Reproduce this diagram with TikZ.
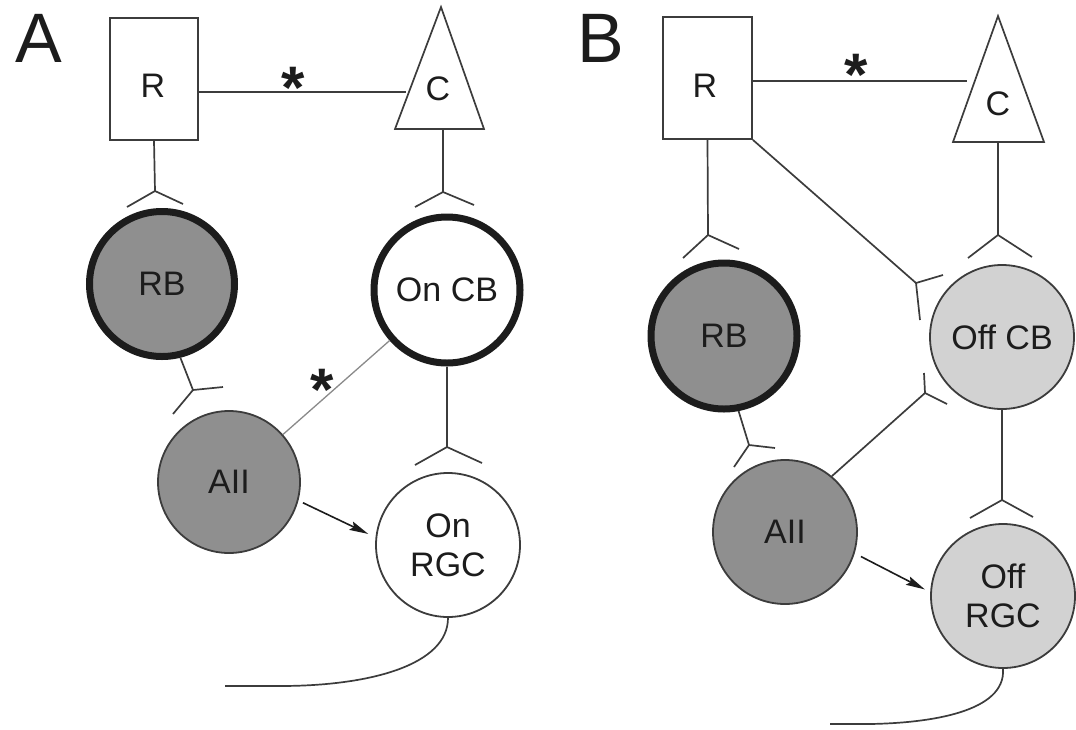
\documentclass[tikz,border=0pt]{standalone}
\usepackage{fontspec}
\setmainfont{Liberation Sans}
\usetikzlibrary{arrows.meta,calc}
\definecolor{ln}{HTML}{3C3C3C}
\definecolor{dk}{HTML}{1C1C1C}
\definecolor{fdark}{HTML}{8F8F8F}
\definecolor{flight}{HTML}{D2D2D2}
\definecolor{lgray}{HTML}{8A8A8A}
\begin{document}
\begin{tikzpicture}[x=1pt,y=-1pt,
  wire/.style={draw=ln, line width=1.7pt},
  lbl/.style={font=\fontsize{34}{40}\selectfont, text=dk, inner sep=0pt},
  cell/.style={circle, draw=ln, line width=1.8pt, inner sep=0pt, align=center,
               font=\fontsize{34}{39}\selectfont, text=dk},
  thickcell/.style={cell, draw=dk, line width=7pt},
  box/.style={draw=ln, line width=1.7pt, inner sep=0pt, fill=white},
  star/.style={font=\fontsize{60}{60}\selectfont\bfseries, text=dk, inner sep=0pt},
  panel/.style={font=\fontsize{70}{80}\selectfont, text=dk, inner sep=0pt},
  arr/.style={draw=dk, line width=1.6pt, -{Stealth[length=19pt,width=9pt,inset=3pt]}}]
\useasboundingbox (0,0) rectangle (1076,729);

% ---------------- Panel A ----------------
\node[panel] (lA) at (39,38) {A};
\node[box, minimum width=88pt, minimum height=122pt] (RA) at (154,79) {};
\node[lbl] (RAt) at (153,86) {R};
\coordinate (CAtop) at (441,7);
\coordinate (CAl) at (395,129);
\coordinate (CAr) at (484,129);
\draw[wire, line join=miter] (CAtop) -- (CAl) -- (CAr) -- cycle;
\node[lbl] (CAt) at (438,89) {C};
\coordinate (CAin) at (406,92);
\coordinate (CAb) at (443,129);
\draw[wire] (RA.east |- CAin) -- (CAin);
\node[star] (sA1) at (293,88) {*};

\node[thickcell, fill=fdark, minimum size=145pt] (RBa) at (162,284) {RB};
\node[thickcell, fill=white, minimum size=146pt] (OnCB) at (447,290) {On CB};
\node[cell, fill=fdark, minimum size=142pt] (AIIa) at (229,482) {AII};
\node[cell, fill=white, minimum size=144pt] (OnRGC) at (448,545) {On\\RGC};

% synapse forks A
\coordinate (fA1) at (155,191); \coordinate (fA1a) at (127,207); \coordinate (fA1b) at (183,204);
\draw[wire] (RA.south) -- (fA1);
\draw[wire] (fA1a) -- (fA1) -- (fA1b);
\coordinate (fA2) at (443,192); \coordinate (fA2a) at (415,207); \coordinate (fA2b) at (474,205);
\draw[wire] (CAb) -- (fA2);
\draw[wire] (fA2a) -- (fA2) -- (fA2b);
\coordinate (fA3) at (193,390); \coordinate (fA3a) at (223,387); \coordinate (fA3b) at (173,414);
\draw[wire] (RBa.-76) -- (fA3);
\draw[wire] (fA3a) -- (fA3) -- (fA3b);
\coordinate (fA4) at (447,447); \coordinate (fA4a) at (415,465); \coordinate (fA4b) at (482,463);
\draw[wire] (OnCB.south) -- (fA4);
\draw[wire] (fA4a) -- (fA4) -- (fA4b);

\draw[draw=lgray, line width=1.3pt] (AIIa) -- (OnCB);
\node[star] (sA2) at (322,390) {*};
\draw[arr, shorten <=5pt, shorten >=8pt] (AIIa.-15) -- (OnRGC.174);
\coordinate (axA) at (225,686);
\draw[wire] (OnRGC.south) .. controls (448,665) and (370,686) .. (280,686) -- (axA);

% ---------------- Panel B ----------------
\node[panel] (lB) at (601,38) {B};
\node[box, minimum width=89pt, minimum height=122pt] (RBx) at (707.5,78) {};
\node[lbl] (RBt) at (705,86) {R};
\coordinate (CBtop) at (998,16);
\coordinate (CBl) at (953,142);
\coordinate (CBr) at (1044,142);
\draw[wire, line join=miter] (CBtop) -- (CBl) -- (CBr) -- cycle;
\node[lbl] (CBt) at (998,104) {C};
\coordinate (CBin) at (967,81);
\coordinate (CBb) at (998,142);
\draw[wire] (RBx.east |- CBin) -- (CBin);
\node[star] (sB1) at (856,75) {*};

\node[thickcell, fill=fdark, minimum size=146pt] (RBb) at (724,336) {RB};
\node[cell, fill=flight, minimum size=144pt] (OffCB) at (1002,337) {Off CB};
\node[cell, fill=fdark, minimum size=144pt] (AIIb) at (785,532) {AII};
\node[cell, fill=flight, minimum size=144pt] (OffRGC) at (1003,596) {Off\\RGC};

\coordinate (fB1) at (708,235); \coordinate (fB1a) at (683,258); \coordinate (fB1b) at (739,249);
\draw[wire] (RBx.south) -- (fB1);
\draw[wire] (fB1a) -- (fB1) -- (fB1b);
\coordinate (fB2) at (998,235); \coordinate (fB2a) at (968,258); \coordinate (fB2b) at (1032,257);
\draw[wire] (CBb) -- (fB2);
\draw[wire] (fB2a) -- (fB2) -- (fB2b);
\coordinate (fB3) at (916,283); \coordinate (fB3a) at (943,275); \coordinate (fB3b) at (920,320);
\draw[wire] (RBx.south east) -- (fB3);
\draw[wire] (fB3a) -- (fB3) -- (fB3b);
\coordinate (fB4) at (749,445); \coordinate (fB4a) at (775,448); \coordinate (fB4b) at (734,467);
\draw[wire] (RBb.-79) -- (fB4);
\draw[wire] (fB4a) -- (fB4) -- (fB4b);
\coordinate (fB5) at (925,393); \coordinate (fB5a) at (924,373); \coordinate (fB5b) at (947,404);
\draw[wire] (AIIb.50) -- (fB5);
\draw[wire] (fB5a) -- (fB5) -- (fB5b);
\coordinate (fB6) at (1002,500); \coordinate (fB6a) at (970,518); \coordinate (fB6b) at (1033,517);
\draw[wire] (OffCB.south) -- (fB6);
\draw[wire] (fB6a) -- (fB6) -- (fB6b);

\draw[arr, shorten <=7pt, shorten >=6pt] (AIIb.-17) -- (OffRGC.177);
\coordinate (axB) at (830,724);
\draw[wire] (OffRGC.south) .. controls (1006,712) and (930,723) .. (870,724) -- (axB);
\end{tikzpicture}
\end{document}
